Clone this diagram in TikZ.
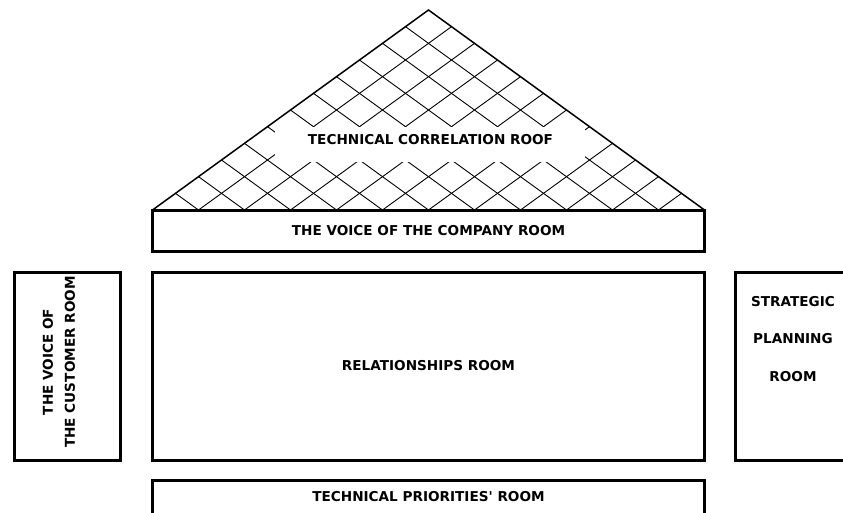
\documentclass[tikz,border=0pt]{standalone}
\usepackage{fontspec}
\setmainfont{DejaVu Sans}
\usetikzlibrary{calc}
\begin{document}
\begin{tikzpicture}[x=1pt,y=-1pt,
  room/.style={draw=black, line width=3pt, inner sep=0pt},
  roomtext/.style={font=\bfseries\fontsize{13.6}{16}\selectfont, inner sep=0pt},
  hatch/.style={draw=black, line width=0.9pt},
  roofline/.style={draw=black, line width=1.5pt, line join=miter}]

\useasboundingbox (0,0) rectangle (843,512);
\clip (0,0) rectangle (843,512);

% roof corners
\coordinate (roofL) at (152.5,210);
\coordinate (roofR) at (704.5,210);
\coordinate (roofA) at (428.5,10);

% diamond hatching: both families pass through twelve equal steps of the base
\foreach \k in {1,...,11} {
  \draw[hatch] ($(roofL)!\k/12!(roofR)$) -- ($(roofL)!\k/12!(roofA)$);
  \draw[hatch] ($(roofL)!\k/12!(roofR)$) -- ($(roofR)!{(12-\k)/12}!(roofA)$);
}

% clear band behind the roof title
\node[fill=white, minimum width=310, minimum height=35, inner sep=0pt] (roofgap) at (430,144.5) {};
\node[roomtext] (rooflabel) at (430.5,140) {TECHNICAL CORRELATION ROOF};

% roof outline
\draw[roofline] (roofL) -- (roofA) -- (roofR);

% rooms
\node[room, minimum width=552, minimum height=41] (company) at (428.5,231) {};
\node[roomtext] (companylabel) at (428.5,230.5) {THE VOICE OF THE COMPANY ROOM};

\node[room, minimum width=552, minimum height=188] (relations) at (428.5,366) {};
\node[roomtext] (relationslabel) at (428.5,366) {RELATIONSHIPS ROOM};

\node[room, minimum width=105.5, minimum height=188] (customer) at (67.25,366) {};
\node[roomtext, rotate=90, align=center, font=\bfseries\fontsize{13.6}{22}\selectfont]
  (customerlabel) at (59,362) {THE VOICE OF\\THE CUSTOMER ROOM};

\node[room, minimum width=117, minimum height=188] (strategic) at (793.5,366) {};
\node[roomtext, align=center, font=\bfseries\fontsize{13.6}{37.5}\selectfont]
  (strategiclabel) at (793,339) {STRATEGIC\\PLANNING\\ROOM};

\node[room, minimum width=552, minimum height=35] (priorities) at (428.5,498) {};
\node[roomtext] (prioritieslabel) at (428.5,497) {TECHNICAL PRIORITIES\textquotesingle{} ROOM};

\end{tikzpicture}
\end{document}
